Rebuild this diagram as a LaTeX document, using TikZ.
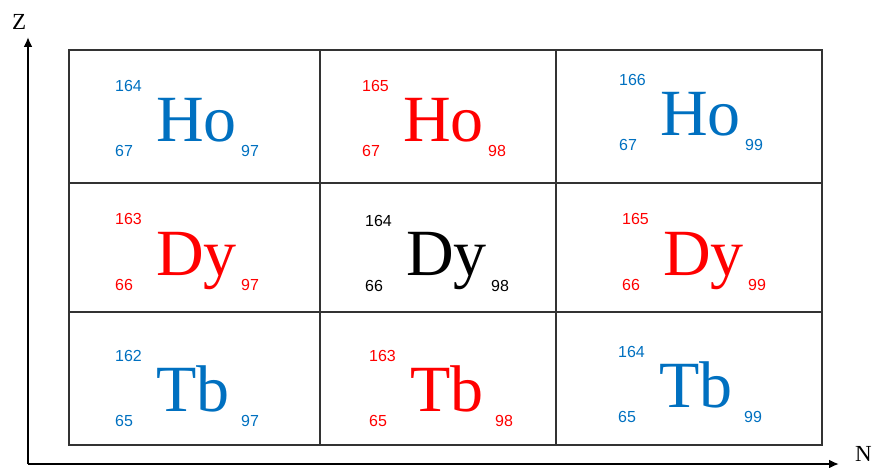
\documentclass[tikz,border=0pt]{standalone}
\usepackage{fontspec}
\setmainfont{Liberation Serif}
\setsansfont{Liberation Sans}
\usepackage{tikz}
\usetikzlibrary{arrows.meta,positioning,calc}
\usepackage{xcolor}
\definecolor{isoBlue}{HTML}{0070C0}
\definecolor{isoRed}{HTML}{FF0000}

\tikzset{
  massnum/.style={anchor=base west, inner sep=0pt, font=\sffamily\fontsize{16}{16}\selectfont},
  elsym/.style={anchor=base west, inner sep=0pt, font=\fontsize{66}{66}\selectfont},
  axislbl/.style={inner sep=0pt, font=\fontsize{23}{23}\selectfont}
}

\begin{document}
\begin{tikzpicture}[x=1pt, y=-1pt]
    \useasboundingbox (0,0) rectangle (879,468);
    \draw[line width=1.2pt, black!80] (69,50) rectangle (822,445);
    \draw[line width=1.2pt, black!80] (69,183) -- (822,183) (69,312) -- (822,312);
    \draw[line width=1.2pt, black!80] (320,50) -- (320,445) (556,50) -- (556,445);
    \coordinate (O) at (28,464);
    \coordinate (ztip) at (28,37);
    \coordinate (ntip) at (839,464);
    \draw[line width=2.8pt, -{Latex[length=10pt,width=9pt]}] (O) -- (ztip);
    \draw[line width=2.8pt, -{Latex[length=10pt,width=9pt]}] (O) -- (ntip);
    \node[axislbl, anchor=base west] (zlbl) at (12,30) {Z};
    \node[axislbl, anchor=base west] (nlbl) at (855,461) {N};
    \foreach \id/\L/\B/\col/\A/\Zn/\sym/\Nn in {
        ho164/115/157/isoBlue/164/67/Ho/97,
        ho165/362/157/isoRed/165/67/Ho/98,
        ho166/619/151/isoBlue/166/67/Ho/99,
        dy163/115/290/isoRed/163/66/Dy/97,
        dy164/365/291/black/164/66/Dy/98,
        dy165/622/290/isoRed/165/66/Dy/99,
        tb162/115/426/isoBlue/162/65/Tb/97,
        tb163/369/426/isoRed/163/65/Tb/98,
        tb164/618/422/isoBlue/164/65/Tb/99} {
      \node[elsym, text=\col] (\id-sym) at (\L+41,\B-15) {\sym};
      \node[massnum, text=\col] (\id-a) at (\L,\B-65) {\A};
      \node[massnum, text=\col] (\id-z) at (\L,\B) {\Zn};
      \node[massnum, text=\col] (\id-n) at (\L+126,\B) {\Nn};
    }
\end{tikzpicture}
\end{document}
